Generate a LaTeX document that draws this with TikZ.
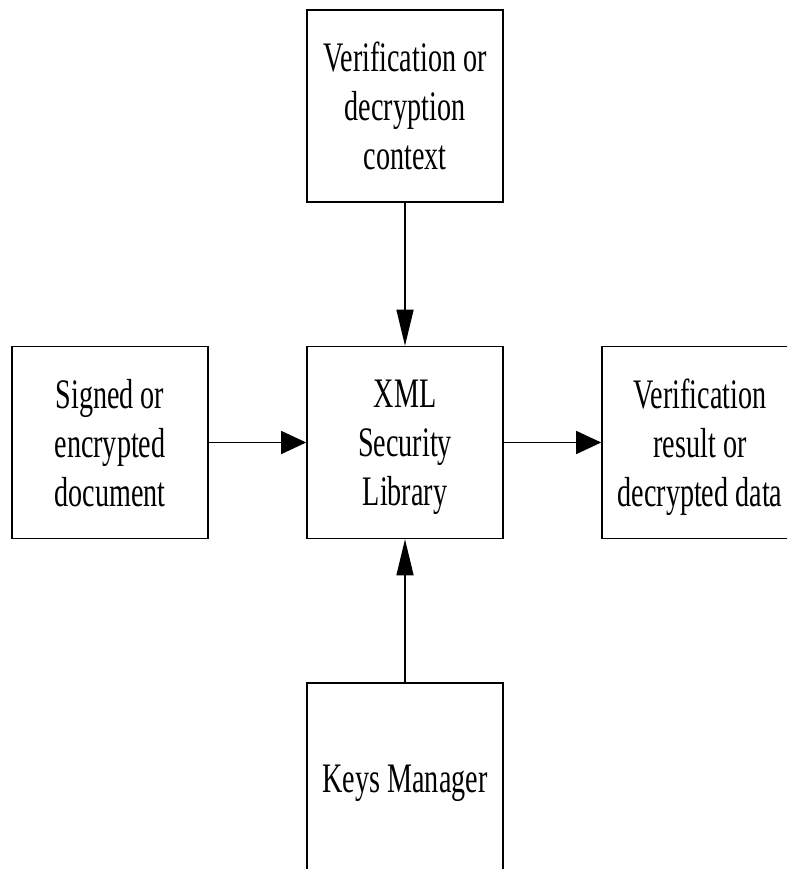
\documentclass[tikz,border=0pt]{standalone}
\usepackage{fontspec}
% Times-metric serif, narrowed to the condensed look of the labels
\newfontfamily\boxfont[FakeStretch=0.67]{Liberation Serif}
\usetikzlibrary{arrows.meta}
\begin{document}
\begin{tikzpicture}[x=1pt,y=-1pt,
  blk/.style={draw, line width=1.6pt, minimum width=196pt, minimum height=192pt,
    inner sep=0pt, align=center, text depth=0pt,
    font=\boxfont\fontsize{42}{49}\selectfont},
  harrow/.style={line width=1.4pt, -{Triangle[length=25pt,width=23pt]}},
  varrow/.style={line width=1.4pt, -{Triangle[length=36pt,width=17pt]}}]
  \fill[white] (0,0) rectangle (787,869);
  \useasboundingbox (0,0) rectangle (787,869);
  \clip (0,0) rectangle (787,869);

  % blocks
  \node[blk] (ctx)  at (405,106)   {Verification or\\decryption\\context};
  \node[blk] (lib)  at (405,442.5) {XML\\Security\\Library};
  \node[blk] (doc)  at (110,442.5) {Signed or\\encrypted\\document};
  \node[blk] (res)  at (700,442.5) {Verification\\result or\\decrypted data};
  \node[blk] (keys) at (405,779)   {Keys Manager};

  % data flow
  \draw[varrow] (ctx)  -- (lib);
  \draw[varrow] (keys) -- (lib);
  \draw[harrow] (doc)  -- (lib);
  \draw[harrow] (lib)  -- (res);
\end{tikzpicture}
\end{document}
